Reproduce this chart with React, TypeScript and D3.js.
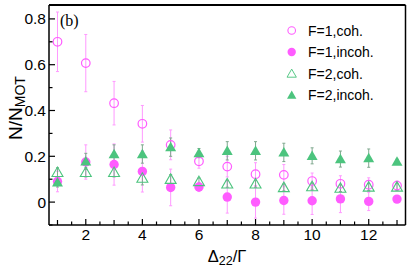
import React from "react";
import * as d3 from "d3";

const xs = [1, 2, 3, 4, 5, 6, 7, 8, 9, 10, 11, 12, 13];
const f1coh = [0.70, 0.607, 0.432, 0.342, 0.25, 0.178, 0.155, 0.122, 0.119, 0.092, 0.08, 0.076, 0.072];
const f1cohErr = [0.13, 0.125, 0.095, 0.08, 0.065, 0.03, 0.045, 0.05, 0.045, 0.035, 0.035, 0.03, 0.02];
const f1inc = [0.09, 0.175, 0.164, 0.134, 0.064, 0.066, 0.022, 0.0, 0.007, 0.006, 0.014, 0.003, 0.013];
const f1incErr = [0.045, 0.075, 0.09, 0.09, 0.08, 0.02, 0.07, 0.07, 0.06, 0.06, 0.06, 0.04, 0.015];
const f2coh = [0.13, 0.13, 0.13, 0.105, 0.10, 0.09, 0.08, 0.08, 0.064, 0.068, 0.061, 0.066, 0.066];
const f2cohErr = [0.02, 0.02, 0.02, 0.03, 0.02, 0.015, 0.015, 0.015, 0.015, 0.015, 0.015, 0.015, 0.015];
const f2inc = [0.086, 0.178, 0.21, 0.21, 0.24, 0.214, 0.224, 0.224, 0.217, 0.202, 0.188, 0.192, 0.177];
const f2incErr = [0.02, 0.035, 0.04, 0.04, 0.04, 0.02, 0.04, 0.04, 0.04, 0.035, 0.035, 0.04, 0.01];

const yMajor = [0, 0.2, 0.4, 0.6, 0.8];
const yMinor = [-0.1, 0.1, 0.3, 0.5, 0.7];
const xLabels = [2, 4, 6, 8, 10, 12];
const legendLabels = ["F=1,coh.", "F=1,incoh.", "F=2,coh.", "F=2,incoh."];

const PINK = "#ff5cff";
const PINK_BAR = "#ff99ff";
const GREEN = "#4cc47e";
const GREEN_BAR = "#7fa88e";

export default function App() {
  const W = 407, H = 268;
  const L = 49, R = 405.5, T = 5, B = 225;
  const x = d3.scaleLinear().domain([0.7, 13.3]).range([L, R]);
  const y = d3.scaleLinear().domain([-0.1, 0.8607]).range([B, T]);
  const tri = d3.symbol().type(d3.symbolTriangle).size(52)() as string;
  const xMinor = d3.range(1, 13.01, 0.5).filter((v) => !xLabels.includes(v));
  const font = "Liberation Sans, Arial, sans-serif";

  const errBars = (vals: number[], errs: number[], color: string) =>
    xs.map((xv, i) => (
      <g key={i} stroke={color} strokeWidth={1}>
        <line x1={x(xv)} x2={x(xv)} y1={y(vals[i] - errs[i])} y2={y(vals[i] + errs[i])} />
        <line x1={x(xv) - 1.5} x2={x(xv) + 1.5} y1={y(vals[i] - errs[i])} y2={y(vals[i] - errs[i])} />
        <line x1={x(xv) - 1.5} x2={x(xv) + 1.5} y1={y(vals[i] + errs[i])} y2={y(vals[i] + errs[i])} />
      </g>
    ));

  return (
    <svg width={W} height={H} style={{ position: "absolute", left: 0, top: 0 }}>
      <rect x={0} y={0} width={W} height={H} fill="#fff" />
      {errBars(f1coh, f1cohErr, PINK_BAR)}
      {errBars(f1inc, f1incErr, PINK_BAR)}
      {errBars(f2coh, f2cohErr, GREEN_BAR)}
      {errBars(f2inc, f2incErr, GREEN_BAR)}
      {xs.map((xv, i) => (
        <circle key={"a" + i} cx={x(xv)} cy={y(f1coh[i])} r={4.3} fill="none" stroke={PINK} strokeWidth={1.2} />
      ))}
      {xs.map((xv, i) => (
        <circle key={"b" + i} cx={x(xv)} cy={y(f1inc[i])} r={4.7} fill={PINK} />
      ))}
      {xs.map((xv, i) => (
        <path key={"c" + i} d={tri} transform={`translate(${x(xv)},${y(f2coh[i]) + 1})`} fill="none" stroke={GREEN} strokeWidth={1.1} />
      ))}
      {xs.map((xv, i) => (
        <path key={"d" + i} d={tri} transform={`translate(${x(xv)},${y(f2inc[i]) + 1})`} fill={GREEN} />
      ))}

      {/* frame */}
      <line x1={L} x2={R} y1={T} y2={T} stroke="#000" strokeWidth={2} />
      <line x1={L} x2={R} y1={B} y2={B} stroke="#000" strokeWidth={1.5} />
      <line x1={L} x2={L} y1={T} y2={B} stroke="#000" strokeWidth={1.5} />
      <line x1={R} x2={R} y1={T} y2={B} stroke="#000" strokeWidth={1.5} />

      {/* y ticks */}
      {yMajor.map((v) => (
        <g key={"ym" + v}>
          <line x1={L} x2={L + 6} y1={y(v)} y2={y(v)} stroke="#000" strokeWidth={1.2} />
          <text x={46} y={y(v) + 5.5} textAnchor="end" fontFamily={font} fontSize={15.5}>{v === 0 ? "0" : v.toFixed(1)}</text>
        </g>
      ))}
      {yMinor.map((v) => (
        <line key={"yn" + v} x1={L} x2={L + 3.5} y1={y(v)} y2={y(v)} stroke="#000" strokeWidth={1.2} />
      ))}
      {/* x ticks */}
      {xLabels.map((v) => (
        <g key={"xm" + v}>
          <line x1={x(v)} x2={x(v)} y1={B} y2={B - 6} stroke="#000" strokeWidth={1.2} />
          <text x={x(v)} y={240} textAnchor="middle" fontFamily={font} fontSize={15.5}>{v}</text>
        </g>
      ))}
      {xMinor.map((v) => (
        <line key={"xn" + v} x1={x(v)} x2={x(v)} y1={B} y2={B - (Number.isInteger(v) ? 5 : 3.5)} stroke="#000" strokeWidth={1.2} />
      ))}

      {/* axis titles */}
      <text transform="translate(22,108) rotate(-90)" textAnchor="middle" fontFamily={font} fontSize={19}>
        N/N<tspan fontSize={14} dy={3}>MOT</tspan>
      </text>
      <text x={227} y={262} textAnchor="middle" fontFamily={font} fontSize={16.5}>
        Δ<tspan fontSize={12.5} dy={3}>22</tspan><tspan dy={-3}>/Γ</tspan>
      </text>
      <text x={60} y={26} fontFamily="Liberation Serif, Times New Roman, serif" fontSize={16}>(b)</text>

      {/* legend */}
      {legendLabels.map((lab, i) => {
        const ly = 30.5 + i * 21.5;
        const lx = 291.7;
        return (
          <g key={lab}>
            {i === 0 && <circle cx={lx} cy={ly} r={3.8} fill="none" stroke={PINK} strokeWidth={1.1} />}
            {i === 1 && <circle cx={lx} cy={ly} r={4.2} fill={PINK} />}
            {i === 2 && <path d={tri} transform={`translate(${lx},${ly + 1}) scale(0.85)`} fill="none" stroke={GREEN} strokeWidth={1.1} />}
            {i === 3 && <path d={tri} transform={`translate(${lx},${ly + 1}) scale(0.85)`} fill={GREEN} />}
            <text x={308} y={ly + 5} fontFamily={font} fontSize={14}>{lab}</text>
          </g>
        );
      })}
    </svg>
  );
}
